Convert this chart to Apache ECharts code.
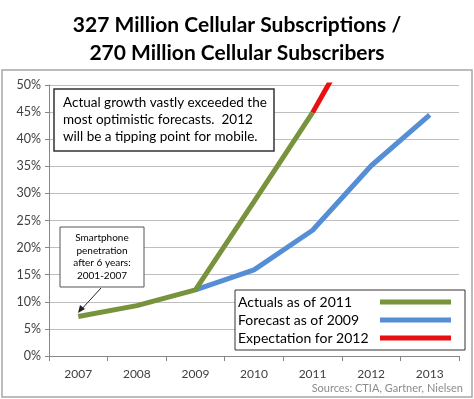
<!DOCTYPE html>
<html>
<head>
<meta charset="utf-8">
<script src="https://cdn.jsdelivr.net/npm/echarts@6/dist/echarts.min.js"></script>
<style>
  html, body { margin: 0; padding: 0; background: #fff; }
  #chart { width: 474px; height: 399px; }
</style>
</head>
<body>
<div id="chart"></div>
<script>
// 年份与各系列数值（%）
const years = ['2007', '2008', '2009', '2010', '2011', '2012', '2013']
const actuals = [7.3, 9.3, 12.2, 28.5, 44.9, null, null]
const forecast2009 = [null, null, 12.2, 15.9, 23.2, 35.1, 44.5]
const expectation2012 = [null, null, null, null, 44.9, 64, null]
const yTicks = [0, 5, 10, 15, 20, 25, 30, 35, 40, 45, 50]

const font = 'Lato, "Open Sans", sans-serif'

const chart = echarts.init(document.getElementById('chart'))

const option = {
  animation: false,
  title: {
    text: '327 Million Cellular Subscriptions /\n270 Million Cellular Subscribers',
    left: 'center',
    top: 6,
    textStyle: {
      fontFamily: font,
      fontWeight: 'bold',
      fontSize: 21,
      lineHeight: 28,
      color: '#000'
    }
  },
  grid: { left: 49, right: 15, top: 85, bottom: 43 },
  xAxis: {
    type: 'category',
    data: years,
    boundaryGap: true,
    axisLine: { lineStyle: { color: '#868686' } },
    axisTick: { show: true, length: 5, lineStyle: { color: '#868686' } },
    axisLabel: { fontFamily: font, fontSize: 12, color: '#404040', margin: 12 }
  },
  yAxis: {
    type: 'value',
    min: yTicks[0],
    max: yTicks[yTicks.length - 1],
    interval: 5,
    axisLine: { show: true, lineStyle: { color: '#868686' } },
    axisTick: { show: true, length: 4, lineStyle: { color: '#868686' } },
    axisLabel: { fontFamily: font, fontSize: 12.5, color: '#404040', margin: 8, formatter: '{value}%' },
    splitLine: { lineStyle: { color: '#bfbfbf' } }
  },
  legend: {
    orient: 'vertical',
    left: 235,
    top: 290,
    width: 228,
    align: 'right',
    icon: 'rect',
    itemWidth: 71,
    itemHeight: 5,
    itemGap: 4,
    padding: [5, 14, 5, 3],
    backgroundColor: '#fff',
    borderColor: '#333',
    borderWidth: 1,
    selectedMode: false,
    formatter: '{a|{name}}',
    textStyle: {
      fontFamily: font,
      fontSize: 14,
      color: '#000',
      rich: { a: { width: 137, align: 'left', fontFamily: font, fontSize: 14, color: '#000' } }
    },
    data: ['Actuals as of 2011', 'Forecast as of 2009', 'Expectation for 2012']
  },
  series: [
    {
      name: 'Forecast as of 2009',
      type: 'line',
      data: forecast2009,
      showSymbol: false,
      lineStyle: { width: 5, color: '#558ed5' },
      itemStyle: { color: '#558ed5' },
      z: 2
    },
    {
      name: 'Expectation for 2012',
      type: 'line',
      data: expectation2012,
      showSymbol: false,
      clip: true,
      lineStyle: { width: 5, color: '#e81010' },
      itemStyle: { color: '#e81010' },
      z: 2
    },
    {
      name: 'Actuals as of 2011',
      type: 'line',
      data: actuals,
      showSymbol: false,
      lineStyle: { width: 5, color: '#77933c' },
      itemStyle: { color: '#77933c' },
      z: 3
    }
  ],
  graphic: [
    // 外框
    {
      type: 'rect',
      shape: { x: 2, y: 70, width: 470, height: 327 },
      style: { fill: null, stroke: '#a6a6a6', lineWidth: 1.5 },
      z: -1
    },
    {
      type: 'rect',
      z: 10,
      shape: { x: 54, y: 89, width: 220, height: 62 },
      style: { fill: '#fff', stroke: '#333', lineWidth: 1.5 }
    },
    {
      type: 'text',
      z: 11,
      x: 63,
      y: 94,
      style: {
        text: 'Actual growth vastly exceeded the\nmost optimistic forecasts.  2012\nwill be a tipping point for mobile.',
        font: '13.5px ' + font,
        lineHeight: 17,
        fill: '#000'
      }
    },
    {
      type: 'rect',
      z: 10,
      shape: { x: 60, y: 227, width: 84, height: 60 },
      style: { fill: '#fff', stroke: '#555', lineWidth: 1 }
    },
    {
      type: 'text',
      z: 11,
      x: 102,
      y: 232,
      style: {
        text: 'Smartphone\npenetration\nafter 6 years:\n2001-2007',
        font: '10px ' + font,
        lineHeight: 12.5,
        align: 'center',
        fill: '#000'
      }
    },
    {
      type: 'line',
      shape: { x1: 101, y1: 288, x2: 79, y2: 312 },
      style: { stroke: '#222', lineWidth: 1 },
      z: 10
    },
    {
      type: 'polygon',
      shape: { points: [[78, 313], [80, 305], [85, 309]] },
      style: { fill: '#222' },
      z: 10
    },
    {
      type: 'text',
      right: 11,
      top: 383,
      style: {
        text: 'Sources: CTIA, Gartner, Nielsen',
        font: '11px ' + font,
        fill: '#8c8c8c'
      }
    }
  ]
}

chart.setOption(option)
window.addEventListener('resize', () => chart.resize())
</script>
</body>
</html>
